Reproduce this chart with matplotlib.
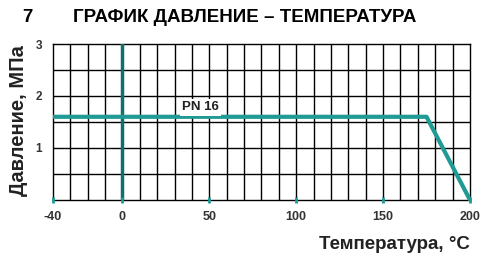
import numpy as np
import matplotlib
matplotlib.use('Agg')
import matplotlib.pyplot as plt

plt.rcParams['font.family'] = ['Liberation Sans', 'DejaVu Sans']

# data
temp = [-40, 175, 200]          # C
pressure = [1.6, 1.6, 0.0]      # MPa, PN16
xticks = [-40, 0, 50, 100, 150, 200]
xtick_labels = ['-40', '0', '50', '100', '150', '200']
yticks = [1, 2, 3]

teal = '#1f9a94'
teal_dark = '#10706c'

fig = plt.figure(figsize=(4.83, 2.56), dpi=100)
ax = fig.add_axes([0.1097, 0.219, 0.8633, 0.609])

ax.set_xlim(-40, 200)
ax.set_ylim(0, 3)

# grid (every 10 C and 0.5 MPa)
for gx in np.arange(-30, 200, 10):
    ax.axvline(gx, color='black', linewidth=1.0, zorder=1)
for gy in np.arange(0.5, 3, 0.5):
    ax.axhline(gy, color='black', linewidth=1.0, zorder=1)

for s in ax.spines.values():
    s.set_color('black')
    s.set_linewidth(1.0)

ax.set_xticks(xticks)
ax.set_xticklabels(xtick_labels, fontsize=9, fontweight='bold', color='#333333')
ax.set_yticks(yticks)
ax.set_yticklabels([str(v) for v in yticks], fontsize=8.5, fontweight='bold', color='#333333')
ax.tick_params(which='both', length=0, pad=8)
ax.tick_params(axis='y', pad=8)

# vertical axis at 0
ax.axvline(0, color=teal_dark, linewidth=2.5, zorder=3)

# PN16 curve
ax.plot(temp, pressure, color=teal, linewidth=3, solid_capstyle='butt', zorder=4, clip_on=False)

# small tick marks on bottom
ax.plot(xticks, [0] * len(xticks), linestyle='none', marker='|', markersize=5,
        markeredgewidth=2, color=teal, clip_on=False, zorder=5)

ax.text(45, 1.78, 'PN 16', fontsize=9.5, fontweight='bold', color='#222222',
        ha='center', va='center', zorder=6,
        bbox=dict(facecolor='white', edgecolor='none', pad=1.5))

fig.text(0.046, 0.93, '7', fontsize=13.5, fontweight='bold', va='center')
fig.text(0.151, 0.93, 'ГРАФИК ДАВЛЕНИЕ – ТЕМПЕРАТУРА', fontsize=13.5, fontweight='bold', va='center')

fig.text(0.039, 0.53, 'Давление, МПа', fontsize=14.5, fontweight='bold', rotation=90,
         ha='center', va='center', color='#222222')
fig.text(0.973, 0.043, 'Температура, °C', fontsize=13.5, fontweight='bold', ha='right',
         va='center', color='#222222')

fig.savefig('out.png', dpi=100)
